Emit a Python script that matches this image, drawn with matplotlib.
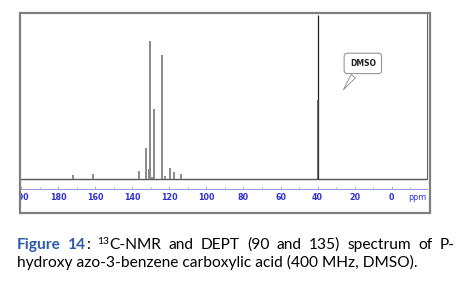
import matplotlib
matplotlib.use("Agg")
import matplotlib.pyplot as plt
from matplotlib.patches import Rectangle
from matplotlib.ticker import MultipleLocator
from matplotlib.transforms import Bbox

# peak positions (ppm) and relative heights (DMSO = 100)
peak_ppm = [172.2, 161.4, 136.3, 132.7, 130.7, 130.2, 129.5, 128.2, 123.7, 122.3, 119.8, 117.6, 113.5]
peak_height = [2.4, 3.1, 4.9, 18.6, 6.1, 83.9, 1.0, 42.4, 75.7, 1.8, 6.7, 4.1, 2.9]
dmso_ppm = 40.0
dmso_height = 100.0
dmso_shoulder = 48.0

caption_line1 = [
    [("Figure", "bold", "#2e5aa8", 0)],
    [("14", "bold", "#2e5aa8", 0), (":", "normal", "black", 0)],
    [("13", "normal", "black", 1), ("C-NMR", "normal", "black", 0)],
    [("and", "normal", "black", 0)],
    [("DEPT", "normal", "black", 0)],
    [("(90", "normal", "black", 0)],
    [("and", "normal", "black", 0)],
    [("135)", "normal", "black", 0)],
    [("spectrum", "normal", "black", 0)],
    [("of", "normal", "black", 0)],
    [("P-", "normal", "black", 0)],
]
caption_line2 = "hydroxy azo-3-benzene carboxylic acid (400 MHz, DMSO)."

W, H = 468, 284
fig = plt.figure(figsize=(W / 100, H / 100), dpi=100)


def px(x, y):
    return x / W, 1 - y / H


# outer frame
fig.patches.append(Rectangle(px(20, 213), 410 / W, 200 / H, transform=fig.transFigure,
                             fill=False, edgecolor="#7f7f7f", linewidth=1.6))

ax = fig.add_axes([21 / W, 1 - 189 / H, 406 / W, 176 / H])
ax.set_xlim(200, -19)
ax.set_ylim(-6.3, 101.2)
for s in ["top", "left", "right"]:
    ax.spines[s].set_visible(False)
ax.spines["bottom"].set_color("#9a9ae0")
ax.spines["bottom"].set_linewidth(0.8)
ax.set_yticks([])
ax.xaxis.set_major_locator(MultipleLocator(20))
ax.xaxis.set_minor_locator(MultipleLocator(10))
ax.tick_params(axis="x", which="major", direction="in", length=2.5, width=0.6,
               color="#9a9ae0", pad=3, labelsize=5.8, labelcolor="#3030d0")
ax.tick_params(axis="x", which="minor", direction="in", length=1.5, width=0.5, color="#9a9ae0")
ax.patch.set_alpha(0)

# baseline
ax.plot([200, -19], [0, 0], color="#555555", lw=1.0)
# sample peaks
ax.vlines(peak_ppm, 0, peak_height, color="#8a8a8a", lw=1.4)
# DMSO solvent peak
ax.vlines([dmso_ppm], 0, dmso_height, color="#222222", lw=0.9)
ax.vlines([dmso_ppm - 0.3], 0, dmso_shoulder, color="#444444", lw=1.1)
# inner right edge
ax.plot([-19, -19], [0, 101.2], color="#666666", lw=0.8, clip_on=False)

ax.annotate("DMSO", xy=(27, 53), xytext=(15.6, 70.4), ha="center", va="center",
            fontsize=5.5, fontweight="bold", color="#222222",
            bbox=dict(boxstyle="round,pad=0.75,rounding_size=0.45", fc="white", ec="#888888", lw=0.7),
            arrowprops=dict(arrowstyle="wedge,tail_width=0.7", fc="white", ec="#888888", lw=0.6))

fig.text(*px(417, 198), "ppm", color="#3030d0", fontsize=5.8, ha="center", va="center")

# caption, first line justified between x=17 and x=455
fs = 11.2
family = "Lato"
fig.canvas.draw()
r = fig.canvas.get_renderer()

# tick labels bold and clipped by the frame (leftmost "200" shows as "00")
clip = Bbox.from_extents(21, 0, 430, H)
for lab in ax.get_xticklabels():
    lab.set_fontweight("bold")
    lab.set_clip_box(clip)
    lab.set_clip_on(True)


def seg_width(text, weight, sup):
    t = fig.text(0, 0, text, fontsize=fs * (0.65 if sup else 1), fontweight=weight, family=family)
    w = t.get_window_extent(renderer=r).width
    t.remove()
    return w


widths = [[seg_width(s, wt, sp) for s, wt, c, sp in tok] for tok in caption_line1]
total = sum(sum(w) for w in widths)
gap = (455 - 17 - total) / (len(caption_line1) - 1)
x = 17
for tok, ws in zip(caption_line1, widths):
    for (s, wt, c, sp), w in zip(tok, ws):
        y = 249 - (5 if sp else 0)
        fig.text(*px(x, y), s, fontsize=fs * (0.65 if sp else 1), fontweight=wt, color=c,
                 family=family, va="baseline", ha="left")
        x += w
    x += gap

fig.text(*px(17, 267), caption_line2, fontsize=fs, color="black", family=family,
         va="baseline", ha="left")

fig.savefig("out.png", dpi=100)
